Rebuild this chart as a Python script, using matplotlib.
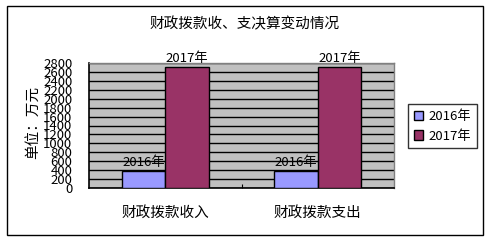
import matplotlib
matplotlib.use("Agg")
import matplotlib.pyplot as plt
from matplotlib.patches import Rectangle
import numpy as np

# Data ------------------------------------------------------------------

categories = ["财政拨款收入", "财政拨款支出"]
series_names = ["2016年", "2017年"]
values_2016 = [375, 375]
values_2017 = [2710, 2710]
yticks = list(range(0, 2801, 200))

title = "财政拨款收、支决算变动情况"
ylabel = "单位：万元"

# Style ------------------------------------------------------------------

plt.rcParams["font.family"] = ["Noto Sans CJK SC", "DejaVu Sans"]
W, H = 491, 242
fig = plt.figure(figsize=(W / 100, H / 100), dpi=100)
fig.patch.set_facecolor("white")

# outer chart border
fig.patches.append(Rectangle((7 / W, 1 - 235 / H), 476 / W, 229 / H,
                             transform=fig.transFigure, fill=False,
                             edgecolor="black", linewidth=1.0))

ax = fig.add_axes([89 / W, 1 - 188 / H, 305 / W, 125 / H])
ax.set_facecolor("#C0C0C0")

x = np.arange(len(categories))
bw = 0.285
colors = ["#9999FF", "#993366"]

for i, vals in enumerate([values_2016, values_2017]):
    pos = x + (i - 0.5) * bw
    ax.bar(pos, vals, width=bw, color=colors[i], edgecolor="black",
           linewidth=1.0, label=series_names[i], zorder=3)
    for p, v in zip(pos, vals):
        ax.text(p, v + 50, series_names[i], ha="center", va="bottom",
                fontsize=9.5, zorder=4)

ax.set_xlim(-0.5, 1.5)
ax.set_ylim(0, 2800)
ax.set_yticks(yticks)
ax.set_yticklabels([str(t) for t in yticks], fontsize=9.5)
ax.yaxis.grid(True, color="black", linewidth=1.0, zorder=0)
ax.set_axisbelow(True)

ax.set_xticks([0.5])
ax.set_xticklabels([""])
ax.tick_params(axis="x", direction="in", length=3, color="black")
ax.tick_params(axis="y", length=0, pad=12)

for c, cat in zip(x, categories):
    ax.text(c, -0.2, cat, transform=ax.get_xaxis_transform(),
            ha="center", va="center", fontsize=10.5)

for side in ["left", "bottom"]:
    ax.spines[side].set_color("black")
    ax.spines[side].set_linewidth(1.2)
for side in ["top", "right"]:
    ax.spines[side].set_color("#808080")
    ax.spines[side].set_linewidth(1.0)

fig.text(245 / W, 1 - 24 / H, title, ha="center", va="center", fontsize=10.5)
fig.text(33 / W, 1 - 122 / H, ylabel, ha="center", va="center",
         rotation=90, fontsize=10.5)

leg = ax.legend(loc="upper left", bbox_to_anchor=(408 / W, 1 - 104 / H),
                bbox_transform=fig.transFigure, frameon=True, fancybox=False,
                edgecolor="black", fontsize=9.5, handlelength=0.7,
                handleheight=0.7, handletextpad=0.4, borderpad=0.45,
                labelspacing=0.5, borderaxespad=0)
leg.get_frame().set_linewidth(1.0)

fig.savefig("out.png", dpi=100)
